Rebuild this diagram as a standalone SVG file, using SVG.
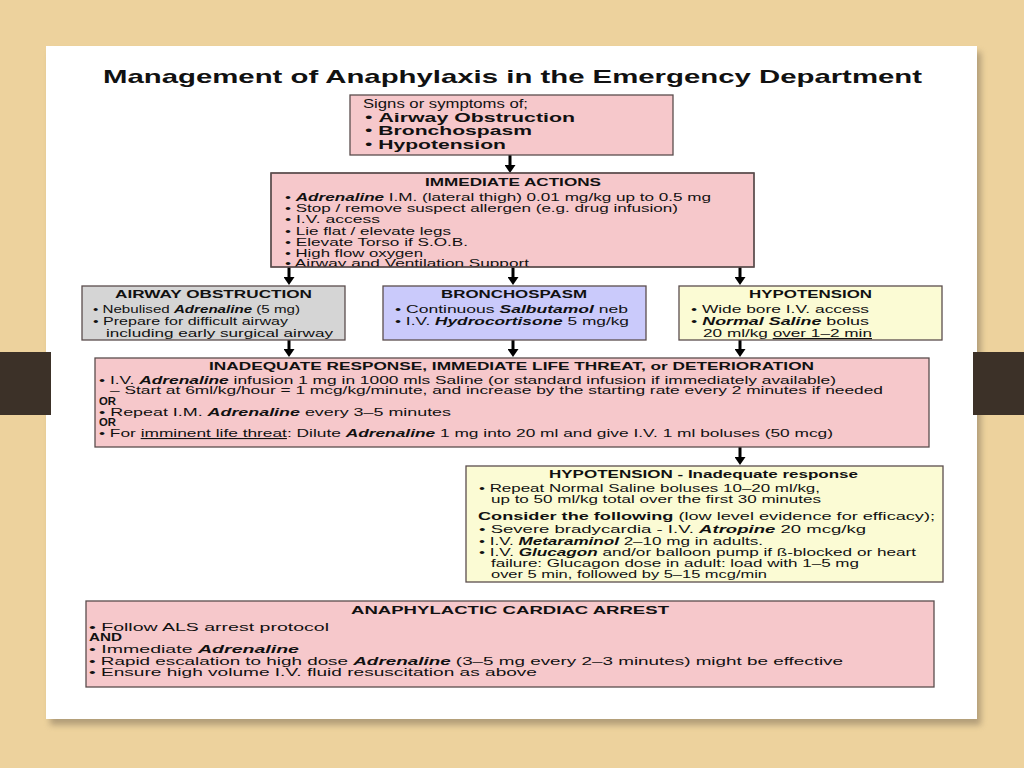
<svg xmlns="http://www.w3.org/2000/svg" width="1024" height="768" viewBox="0 0 1024 768">
<style>
text{font-family:"Liberation Sans",Arial,Helvetica,sans-serif;fill:#111}
.b11{font-size:11px}
.hd{font-size:11px;font-weight:bold}
.b{font-weight:bold}
.bi{font-weight:bold;font-style:italic}
.box{stroke:#5b4d4d;stroke-width:1.3}
.pink{fill:#f6c8cb}
.gray{fill:#d5d5d5}
.lav{fill:#cacafb}
.yel{fill:#fbfbd4}
.ar{stroke:#000;stroke-width:3;fill:none}
</style>
<defs>
<marker id="ah" markerUnits="userSpaceOnUse" markerWidth="8" markerHeight="11" refX="1" refY="5.5" orient="auto" viewBox="0 0 8 11">
<path d="M0,0 L8,5.5 L0,11 z" fill="#000"/>
</marker>
<filter id="sh" x="-5%" y="-5%" width="110%" height="110%">
<feGaussianBlur stdDeviation="3"/>
</filter>
<clipPath id="clipIA"><rect x="271" y="173" width="483" height="94"/></clipPath>
</defs>

<!-- background -->
<rect x="0" y="0" width="1024" height="768" fill="#edd29d"/>
<rect x="50" y="52" width="931" height="673" fill="#8a7a60" opacity="0.6" filter="url(#sh)"/>
<rect x="46" y="46" width="931" height="673" fill="#ffffff"/>
<rect x="0" y="352" width="51" height="63" fill="#3c3128"/>
<rect x="973" y="352" width="51" height="63" fill="#3c3128"/>

<text x="103" y="83" font-size="19" font-weight="bold" textLength="819" lengthAdjust="spacingAndGlyphs">Management of Anaphylaxis in the Emergency Department</text>

<g id="connectors">
<line class="ar" x1="510" y1="155" x2="510" y2="166" marker-end="url(#ah)"/>
<line class="ar" x1="289" y1="267" x2="289" y2="278" marker-end="url(#ah)"/>
<line class="ar" x1="513" y1="267" x2="513" y2="278" marker-end="url(#ah)"/>
<line class="ar" x1="740" y1="267" x2="740" y2="278" marker-end="url(#ah)"/>
<line class="ar" x1="289" y1="340" x2="289" y2="350" marker-end="url(#ah)"/>
<line class="ar" x1="513" y1="340" x2="513" y2="350" marker-end="url(#ah)"/>
<line class="ar" x1="740" y1="340" x2="740" y2="350" marker-end="url(#ah)"/>
<line class="ar" x1="740" y1="447" x2="740" y2="458" marker-end="url(#ah)"/>
</g>

<g id="signs">
<rect class="box pink" x="350" y="95" width="323" height="60"/>
<text x="363" y="108" font-size="13" textLength="165" lengthAdjust="spacingAndGlyphs">Signs or symptoms of;</text>
<text x="365" y="122" font-size="13" textLength="210" lengthAdjust="spacingAndGlyphs">• <tspan class="b">Airway Obstruction</tspan></text>
<text x="365" y="135" font-size="13" textLength="167" lengthAdjust="spacingAndGlyphs">• <tspan class="b">Bronchospasm</tspan></text>
<text x="365" y="149" font-size="13" textLength="141" lengthAdjust="spacingAndGlyphs">• <tspan class="b">Hypotension</tspan></text>
</g>

<g id="immediate">
<rect class="box pink" x="271" y="173" width="483" height="94"/>
<g clip-path="url(#clipIA)">
<text class="hd" x="425" y="186" textLength="176" lengthAdjust="spacingAndGlyphs">IMMEDIATE ACTIONS</text>
<text class="b11" x="285" y="201" textLength="426" lengthAdjust="spacingAndGlyphs">• <tspan class="bi">Adrenaline</tspan> I.M. (lateral thigh) 0.01 mg/kg up to 0.5 mg</text>
<text class="b11" x="285" y="212" textLength="393" lengthAdjust="spacingAndGlyphs">• Stop / remove suspect allergen (e.g. drug infusion)</text>
<text class="b11" x="285" y="223" textLength="95" lengthAdjust="spacingAndGlyphs">• I.V. access</text>
<text class="b11" x="285" y="235" textLength="166" lengthAdjust="spacingAndGlyphs">• Lie flat / elevate legs</text>
<text class="b11" x="285" y="246" textLength="183" lengthAdjust="spacingAndGlyphs">• Elevate Torso if S.O.B.</text>
<text class="b11" x="285" y="257" textLength="138" lengthAdjust="spacingAndGlyphs">• High flow oxygen</text>
<text class="b11" x="285" y="267" textLength="244" lengthAdjust="spacingAndGlyphs">• Airway and Ventilation Support</text>
</g>
<rect class="box" x="271" y="173" width="483" height="94" fill="none"/>
</g>

<g id="airway">
<rect class="box gray" x="82" y="286" width="263" height="54"/>
<text class="hd" x="115" y="298" textLength="197" lengthAdjust="spacingAndGlyphs">AIRWAY OBSTRUCTION</text>
<text class="b11" x="93" y="313" textLength="207" lengthAdjust="spacingAndGlyphs">• Nebulised <tspan class="bi">Adrenaline</tspan> (5 mg)</text>
<text class="b11" x="93" y="325" textLength="195" lengthAdjust="spacingAndGlyphs">• Prepare for difficult airway</text>
<text class="b11" x="106" y="337" textLength="227" lengthAdjust="spacingAndGlyphs">including early surgical airway</text>
</g>

<g id="bronchospasm">
<rect class="box lav" x="383" y="286" width="263" height="54"/>
<text class="hd" x="441" y="298" textLength="146" lengthAdjust="spacingAndGlyphs">BRONCHOSPASM</text>
<text class="b11" x="395" y="313" textLength="233" lengthAdjust="spacingAndGlyphs">• Continuous <tspan class="bi">Salbutamol</tspan> neb</text>
<text class="b11" x="395" y="325" textLength="234" lengthAdjust="spacingAndGlyphs">• I.V. <tspan class="bi">Hydrocortisone</tspan> 5 mg/kg</text>
</g>

<g id="hypotension">
<rect class="box yel" x="679" y="286" width="263" height="54"/>
<text class="hd" x="749" y="298" textLength="123" lengthAdjust="spacingAndGlyphs">HYPOTENSION</text>
<text class="b11" x="691" y="313" textLength="178" lengthAdjust="spacingAndGlyphs">• Wide bore I.V. access</text>
<text class="b11" x="691" y="325" textLength="178" lengthAdjust="spacingAndGlyphs">• <tspan class="bi">Normal Saline</tspan>  bolus</text>
<text class="b11" x="703" y="337" textLength="169" lengthAdjust="spacingAndGlyphs">20 ml/kg <tspan text-decoration="underline">over 1–2 min</tspan></text>
</g>

<g id="inadequate">
<rect class="box pink" x="95" y="358" width="834" height="89"/>
<text class="hd" x="209" y="370" textLength="605" lengthAdjust="spacingAndGlyphs">INADEQUATE RESPONSE, IMMEDIATE LIFE THREAT, or DETERIORATION</text>
<text class="b11" x="99" y="384" textLength="737" lengthAdjust="spacingAndGlyphs">• I.V. <tspan class="bi">Adrenaline</tspan> infusion 1 mg in 1000 mls Saline (or standard infusion if immediately available)</text>
<text class="b11" x="110" y="394" textLength="773" lengthAdjust="spacingAndGlyphs">– Start at 6ml/kg/hour = 1 mcg/kg/minute, and increase by the starting rate every 2 minutes if needed</text>
<text class="hd" x="99" y="405" textLength="17" lengthAdjust="spacingAndGlyphs">OR</text>
<text class="b11" x="99" y="416" textLength="352" lengthAdjust="spacingAndGlyphs">• Repeat I.M. <tspan class="bi">Adrenaline</tspan> every 3–5 minutes</text>
<text class="hd" x="99" y="426" textLength="17" lengthAdjust="spacingAndGlyphs">OR</text>
<text class="b11" x="99" y="437" textLength="734" lengthAdjust="spacingAndGlyphs">• For <tspan text-decoration="underline">imminent life threat</tspan>: Dilute <tspan class="bi">Adrenaline</tspan> 1 mg into 20 ml and give I.V. 1 ml boluses (50 mcg)</text>
</g>

<g id="hypo-inadequate">
<rect class="box yel" x="466" y="466" width="477" height="116"/>
<text class="hd" x="549" y="478" textLength="309" lengthAdjust="spacingAndGlyphs">HYPOTENSION - Inadequate response</text>
<text class="b11" x="479" y="492" textLength="341" lengthAdjust="spacingAndGlyphs">• Repeat Normal Saline boluses 10–20 ml/kg,</text>
<text class="b11" x="491" y="503" textLength="330" lengthAdjust="spacingAndGlyphs">up to 50 ml/kg total over the first 30 minutes</text>
<text class="b11" x="478" y="520" textLength="457" lengthAdjust="spacingAndGlyphs"><tspan class="b">Consider the following</tspan> (low level evidence for efficacy);</text>
<text class="b11" x="479" y="533" textLength="387" lengthAdjust="spacingAndGlyphs">• Severe bradycardia - I.V. <tspan class="bi">Atropine</tspan> 20 mcg/kg</text>
<text class="b11" x="479" y="545" textLength="284" lengthAdjust="spacingAndGlyphs">• I.V. <tspan class="bi">Metaraminol</tspan> 2–10 mg in adults.</text>
<text class="b11" x="479" y="556" textLength="437" lengthAdjust="spacingAndGlyphs">• I.V. <tspan class="bi">Glucagon</tspan> and/or balloon pump if ß-blocked or heart</text>
<text class="b11" x="491" y="567" textLength="368" lengthAdjust="spacingAndGlyphs">failure: Glucagon dose in adult: load with 1–5 mg</text>
<text class="b11" x="491" y="578" textLength="276" lengthAdjust="spacingAndGlyphs">over 5 min, followed by 5–15 mcg/min</text>
</g>

<g id="cardiac-arrest">
<rect class="box pink" x="86" y="601" width="848" height="86"/>
<text class="hd" x="351" y="614" textLength="318" lengthAdjust="spacingAndGlyphs">ANAPHYLACTIC CARDIAC ARREST</text>
<text class="b11" x="89" y="631" textLength="240" lengthAdjust="spacingAndGlyphs">• Follow ALS arrest protocol</text>
<text class="hd" x="89" y="641" textLength="33" lengthAdjust="spacingAndGlyphs">AND</text>
<text class="b11" x="89" y="653" textLength="210" lengthAdjust="spacingAndGlyphs">• Immediate <tspan class="bi">Adrenaline</tspan></text>
<text class="b11" x="89" y="665" textLength="754" lengthAdjust="spacingAndGlyphs">• Rapid escalation to high dose <tspan class="bi">Adrenaline</tspan> (3–5 mg every 2–3 minutes) might be effective</text>
<text class="b11" x="89" y="676" textLength="448" lengthAdjust="spacingAndGlyphs">• Ensure high volume I.V. fluid resuscitation as above</text>
</g>
</svg>
